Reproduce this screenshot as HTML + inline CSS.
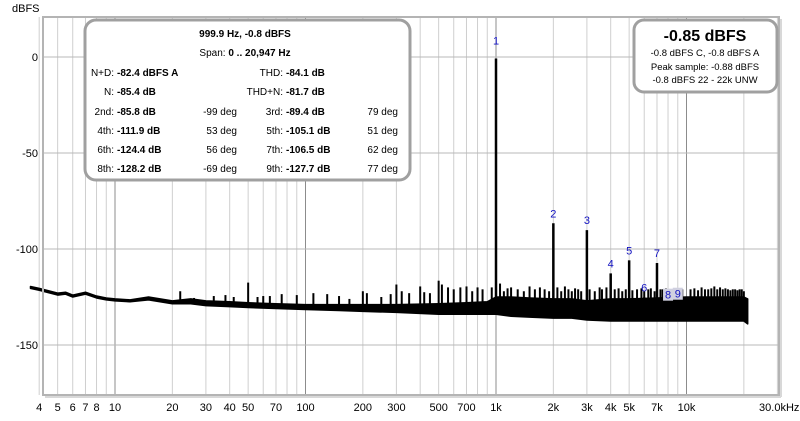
<!DOCTYPE html>
<html><head><meta charset="utf-8">
<style>
body{margin:0;background:#fff;width:800px;height:416px;overflow:hidden;font-family:"Liberation Sans",sans-serif}
svg text{font-family:"Liberation Sans",sans-serif}
</style></head>
<body>
<svg id="chart" width="800" height="416" xmlns="http://www.w3.org/2000/svg">
<g id="grid"></g>
<g id="series"></g>
<g id="labels"></g>
<rect x="43" y="17" width="736" height="378" fill="none" stroke="#b4b4b4" stroke-width="2"/>
<line x1="45" y1="397" x2="781" y2="397" stroke="#d8d8d8" stroke-width="2"/>
<line x1="781" y1="19" x2="781" y2="397" stroke="#d8d8d8" stroke-width="2"/>
<text x="12" y="12" font-size="11" fill="#000">dBFS</text>
<g id="yticks"></g>
<g id="xticks"></g>

<g font-size="10">
<rect x="85" y="20" width="325" height="160" rx="11" fill="#fff" stroke="#a0a0a0" stroke-width="3"/>
<text x="245" y="37" text-anchor="middle" font-weight="bold">999.9 Hz, -0.8 dBFS</text>
<text x="245" y="56" text-anchor="middle">Span: <tspan font-weight="bold">0 .. 20,947 Hz</tspan></text>
<g text-anchor="end">
<text x="114" y="76">N+D:</text><text x="114" y="95">N:</text><text x="114" y="115">2nd:</text><text x="114" y="134">4th:</text><text x="114" y="153">6th:</text><text x="114" y="172">8th:</text>
<text x="237" y="115">-99 deg</text><text x="237" y="134">53 deg</text><text x="237" y="153">56 deg</text><text x="237" y="172">-69 deg</text>
<text x="283" y="76">THD:</text><text x="283" y="95">THD+N:</text><text x="283" y="115">3rd:</text><text x="283" y="134">5th:</text><text x="283" y="153">7th:</text><text x="283" y="172">9th:</text>
<text x="398" y="115">79 deg</text><text x="398" y="134">51 deg</text><text x="398" y="153">62 deg</text><text x="398" y="172">77 deg</text>
</g>
<g font-weight="bold">
<text x="117" y="76">-82.4 dBFS A</text><text x="117" y="95">-85.4 dB</text><text x="117" y="115">-85.8 dB</text><text x="117" y="134">-111.9 dB</text><text x="117" y="153">-124.4 dB</text><text x="117" y="172">-128.2 dB</text>
<text x="286" y="76">-84.1 dB</text><text x="286" y="95">-81.7 dB</text><text x="286" y="115">-89.4 dB</text><text x="286" y="134">-105.1 dB</text><text x="286" y="153">-106.5 dB</text><text x="286" y="172">-127.7 dB</text>
</g>
</g>

<g>
<rect x="634" y="20" width="143" height="72" rx="10" fill="#fff" stroke="#a0a0a0" stroke-width="3"/>
<text x="705" y="41" text-anchor="middle" font-size="16" font-weight="bold">-0.85 dBFS</text>
<text x="705" y="56" text-anchor="middle" font-size="9.5">-0.8 dBFS C, -0.8 dBFS A</text>
<text x="705" y="70" text-anchor="middle" font-size="9.5">Peak sample: -0.88 dBFS</text>
<text x="705" y="83" text-anchor="middle" font-size="9.5">-0.8 dBFS 22 - 22k UNW</text>
</g>
</svg>
<script>
// ---- data ----
const floorFreqs = [3.6,4,5,5.5,6,7,8,9,10,12,15,20,25,30,40,50,70,100,150,200,300,500,700,900,1000,1200,1500,2000,2500,3000,4000,5000,7000,10000,15000,20000,20950];
const floorTop    = [-119.5,-120.5,-123,-122.5,-124,-122.5,-124.5,-125.5,-126,-126.5,-125,-127,-126,-127,-127.5,-128,-128.5,-129,-129,-129,-129,-128.5,-128,-127.5,-125,-125,-125.5,-126,-126,-127,-126,-126,-125.5,-125,-125,-125,-126];
const floorBottom = [-120.5,-121.5,-124,-123.5,-125,-123.5,-125.5,-126.5,-127,-127.5,-126.5,-128.5,-128.5,-129.5,-130,-130.5,-131,-131.5,-132,-132.5,-133,-134,-134,-134,-134,-135,-135.5,-136,-136,-137,-137.5,-137.5,-137.5,-137.5,-137.5,-137.5,-139];
const spikeFreqs  = [22,26,33,38,42,50,56,60,65,75,90,110,130,150,170,200,210,250,280,300,320,350,400,420,450,500,520,560,600,650,700,750,800,850,950,1050,1100,1150,1200,1300,1400,1500,1600,1700,1800,1900,2100,2200,2300,2400,2500,2600,2700,2800,3100,3300,3500,3600,3800,4200,4400,4600,4800,5200,5500,5800,6000,6300,6500,6800,7300,7500,7800,8200,8500,8800,9500,10500,11000,11500,12000,12500,13000,13500,14000,14500,15000,15500,16000,16500,17000,17500,18000,18500,19000,19500,20000];
const spikeLevels = [-122,-125.5,-124.5,-124,-125,-117.5,-125,-124.5,-124.5,-123.5,-124,-123,-123.5,-124.5,-126,-122,-123,-125,-123.5,-118.5,-122,-123,-119.5,-122.5,-123,-116.5,-118.5,-120,-121,-120,-119.5,-122,-120,-121,-120,-118,-122,-120.5,-120,-121,-122,-119.5,-121,-120,-121,-122,-120,-122,-119.5,-121,-122,-120.5,-121,-122,-121,-122,-120,-121,-120,-121,-120.5,-122,-121,-121.5,-121,-120.5,-122,-121,-120.5,-122,-121,-121,-120.5,-121,-121,-122,-121,-121,-120.5,-121.5,-120,-121,-121,-120.5,-119.5,-121,-120,-121,-120.5,-121,-121.5,-121,-121,-121.5,-121,-121,-122];
const harmonicNums   = [1,2,3,4,5,6,7,8,9];
const harmonicFreqs  = [1000,2000,3000,4000,5000,6000,7000,8000,9000];
const harmonicLevels = [-0.8,-86.6,-90.2,-112.7,-105.9,-125.2,-107.3,-129,-128.5];
const yTicks = [0,-50,-100,-150];
const xTickVals = [4,5,6,7,8,10,20,30,40,50,70,100,200,300,500,700,1000,2000,3000,4000,5000,7000,10000,30000];
const xTickLabels = ["4","5","6","7","8","10","20","30","40","50","70","100","200","300","500","700","1k","2k","3k","4k","5k","7k","10k","30.0kHz"];

// ---- axes ----
const X = f => 115 + (Math.log10(f) - 1) * 190.5;
const Y = d => 57 - d * 1.92;
const NS = "http://www.w3.org/2000/svg";
function mk(tag, attrs, parent){const e=document.createElementNS(NS,tag);for(const k in attrs)e.setAttribute(k,attrs[k]);parent.appendChild(e);return e;}
const grid=document.getElementById('grid'), series=document.getElementById('series'), lab=document.getElementById('labels');
const yt=document.getElementById('yticks'), xt=document.getElementById('xticks');

for(let dec=1;dec<=10000;dec*=10){
  for(let m=1;m<=9;m++){
    const f=dec*m; if(f<3.7||f>30000) continue;
    const l=mk('line',{x1:X(f),x2:X(f),y1:17,y2:395,stroke:m===1?'#8c8c8c':'#cfcfcf','stroke-width':1},grid);
    
    
  }
}
yTicks.forEach(v=>{
  const l=mk('line',{x1:43,x2:779,y1:Y(v),y2:Y(v),stroke:'#b8b8b8','stroke-width':1},grid);
  
  
  const t=mk('text',{x:38,y:Y(v)+4,'text-anchor':'end','font-size':11},yt);
  t.textContent=v;
  
  
});
xTickVals.forEach((v,i)=>{
  const t=mk('text',{x:X(v),y:411,'text-anchor':i===xTickVals.length-1?'end':'middle','font-size':11},xt);
  if(i===xTickVals.length-1) t.setAttribute('x',X(v)+22);
  t.textContent=xTickLabels[i];
  
  
});

let pts=floorFreqs.map((f,i)=>X(f)+','+Y(floorTop[i]));
pts=pts.concat(floorFreqs.slice().reverse().map((f,i)=>X(f)+','+Y(floorBottom[floorFreqs.length-1-i])));
const band=mk('polygon',{points:pts.join(' '),fill:'#000',stroke:'#000','stroke-width':1.5,'stroke-linejoin':'round'},series);



function floorAt(f){
  for(let i=1;i<floorFreqs.length;i++){ if(f<=floorFreqs[i]){const t=(Math.log(f)-Math.log(floorFreqs[i-1]))/(Math.log(floorFreqs[i])-Math.log(floorFreqs[i-1]));return floorTop[i-1]+t*(floorTop[i]-floorTop[i-1]);} }
  return floorTop[floorTop.length-1];
}
spikeFreqs.forEach((f,i)=>{
  const l=mk('line',{x1:X(f),x2:X(f),y1:Y(floorAt(f)),y2:Y(spikeLevels[i]),stroke:'#000','stroke-width':2},series);
  
  
});
harmonicFreqs.forEach((f,i)=>{
  const l=mk('line',{x1:X(f),x2:X(f),y1:Y(floorAt(f))+10,y2:Y(harmonicLevels[i]),stroke:'#000','stroke-width':2.5},series);
  
  
  const n=harmonicNums[i];
  const ty=Y(harmonicLevels[i])-(n===1?14:6);
  if(n>=8){
    const r=mk('rect',{x:X(f)-5,y:ty-10,width:10,height:12,fill:'#d0d0e0'},lab);
    
    
  }
  const t=mk('text',{x:X(f),y:ty,'text-anchor':'middle','font-size':11,fill:'#1010c0'},lab);
  t.textContent=n;
  
  
});
</script>
</body></html>
